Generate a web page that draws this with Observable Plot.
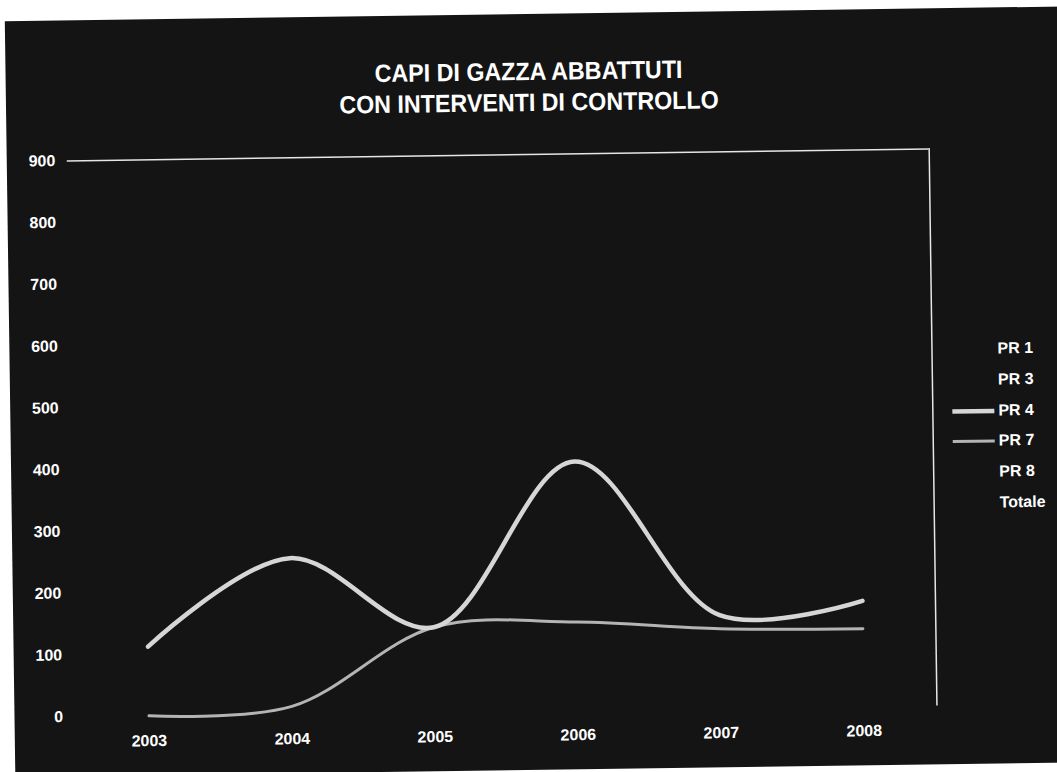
<!DOCTYPE html>
<html><head><meta charset="utf-8">
<script src="https://cdn.jsdelivr.net/npm/d3@7"></script>
<script src="https://cdn.jsdelivr.net/npm/@observablehq/plot@0.6"></script>
<style>
html,body{margin:0;padding:0;background:#fff;width:1057px;height:772px;overflow:hidden;font-family:"Liberation Sans",Arial,sans-serif;}
#panel{position:absolute;left:10px;top:14px;width:1075px;height:756px;background:#141414;transform-origin:518px 376px;transform:rotate(-0.8deg);}
#chart{position:absolute;left:0;top:0;width:1057px;height:772px;transform-origin:528px 390px;transform:rotate(-0.8deg);color:#fff;}
#title{position:absolute;left:0;width:1066px;top:56px;text-align:center;font-weight:bold;font-size:25px;line-height:31px;color:#fff;}
#title div{transform:scaleX(0.93);transform-origin:533px 50%;white-space:nowrap;}
#plot{position:absolute;left:0;top:120px;}
#legend{position:absolute;left:950px;top:340px;font-weight:bold;font-size:16px;color:#fff;}
.row{position:relative;height:30.8px;line-height:30.8px;}
.row span{position:absolute;left:48px;white-space:nowrap;}
.row svg{position:absolute;left:0;top:0;}
</style></head>
<body>
<div id="panel"></div>
<div id="chart">
  <div id="title"><div>CAPI DI GAZZA ABBATTUTI</div><div>CON INTERVENTI DI CONTROLLO</div></div>
  <div id="plot"></div>
  <div id="legend"></div>
</div>
<script>
const years = ["2003","2004","2005","2006","2007","2008"];
const pr4 = [112, 252, 137, 402, 150, 170];
const pr7 = [0, 12, 137, 142, 128, 125];
const yTicks = [0,100,200,300,400,500,600,700,800,900];
const legendLabels = ["PR 1","PR 3","PR 4","PR 7","PR 8","Totale"];
const seriesColors = {"PR 4":"#d6d6d6","PR 7":"#b4b4b4"};
const seriesWidths = {"PR 4":4.5,"PR 7":3};

const rows4 = years.map((y,i)=>({year:y, value:pr4[i], series:"PR 4"}));
const rows7 = years.map((y,i)=>({year:y, value:pr7[i], series:"PR 7"}));

const chart = Plot.plot({
  width: 1057,
  height: 652,
  marginLeft: 70,
  marginRight: 125,
  marginTop: 34,
  marginBottom: 62,
  style: {background:"transparent", color:"#fff", fontSize:"16px", fontWeight:"bold", fontFamily:"'Liberation Sans', Arial, sans-serif"},
  x: {type:"point", domain: years, padding: 0.5},
  y: {domain:[0,900]},
  marks: [
    Plot.ruleY([900], {stroke:"#e6e6e6", strokeWidth:1.5}),
    Plot.frame({anchor:"right", stroke:"#e6e6e6", strokeWidth:1.5}),
    Plot.axisY({ticks: yTicks, tickSize:0, tickPadding:12, label:null}),
    Plot.axisX({tickSize:0, tickPadding:19, label:null}),
    Plot.line(rows7, {x:"year", y:"value", stroke:seriesColors["PR 7"], strokeWidth:seriesWidths["PR 7"], curve:"catmull-rom"}),
    Plot.line(rows4, {x:"year", y:"value", stroke:seriesColors["PR 4"], strokeWidth:seriesWidths["PR 4"], curve:"catmull-rom"})
  ]
});
document.getElementById("plot").appendChild(chart);

const leg = document.getElementById("legend");
legendLabels.forEach(l => {
  const r = document.createElement("div");
  r.className = "row";
  if (seriesColors[l]) {
    r.innerHTML = `<svg width="46" height="31"><line x1="2" x2="44" y1="15.4" y2="15.4" stroke="${seriesColors[l]}" stroke-width="${seriesWidths[l]}"/></svg>`;
  }
  const s = document.createElement("span");
  s.textContent = l;
  r.appendChild(s);
  leg.appendChild(r);
});
</script>
</body></html>
